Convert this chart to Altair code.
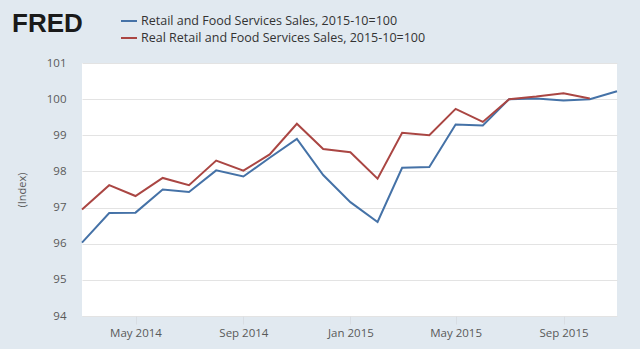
import altair as alt
import pandas as pd

months = pd.date_range("2014-03-01", "2015-11-01", freq="MS").strftime("%Y-%m-%d").tolist()

nominal = [96.03, 96.85, 96.86, 97.50, 97.43, 98.03, 97.86, 98.38, 98.90, 97.90,
           97.15, 96.60, 98.10, 98.12, 99.30, 99.27, 100.00, 100.02, 99.96, 100.00, 100.22]
real = [96.95, 97.62, 97.32, 97.82, 97.62, 98.30, 98.02, 98.47, 99.32, 98.62,
        98.53, 97.80, 99.07, 99.00, 99.73, 99.37, 100.00, 100.07, 100.16, 100.02]

s_nom = "Retail and Food Services Sales, 2015-10=100"
s_real = "Real Retail and Food Services Sales, 2015-10=100"

rows = [{"date": d, "value": v, "series": s_nom} for d, v in zip(months, nominal)]
rows += [{"date": d, "value": v, "series": s_real} for d, v in zip(months, real)]
df = pd.DataFrame(rows)

BLUE = "#4572a7"
RED = "#aa4643"
FONT = "Open Sans"

tick_vals = [alt.DateTime(year=2014, month=5, date=1, utc=True),
             alt.DateTime(year=2014, month=9, date=1, utc=True),
             alt.DateTime(year=2015, month=1, date=1, utc=True),
             alt.DateTime(year=2015, month=5, date=1, utc=True),
             alt.DateTime(year=2015, month=9, date=1, utc=True)]

x = alt.X("date:T", title=None,
          scale=alt.Scale(type="utc",
                          domain=[alt.DateTime(year=2014, month=3, date=1, utc=True),
                                  alt.DateTime(year=2015, month=11, date=1, utc=True)]),
          axis=alt.Axis(values=tick_vals, labelExpr="utcFormat(datum.value, '%b %Y')",
                        grid=False, domain=False, tickSize=8, tickColor="#d8dde3",
                        labelPadding=3, labelFontSize=11.5, labelColor="#595959",
                        labelFont=FONT))
y = alt.Y("value:Q", title="(Index)",
          scale=alt.Scale(domain=[94, 101], nice=False, zero=False),
          axis=alt.Axis(values=[94, 95, 96, 97, 98, 99, 100, 101], grid=True,
                        gridColor="#e3e3e3", gridWidth=1, domain=False, ticks=False,
                        labelPadding=16, labelFontSize=11.5, labelColor="#595959",
                        labelFont=FONT, titleFont=FONT, titleFontSize=11,
                        titleFontWeight="normal", titleColor="#595959",
                        titlePadding=19))

color = alt.Color("series:N", scale=alt.Scale(domain=[s_nom, s_real], range=[BLUE, RED]),
                  legend=None)

lines = alt.Chart(df).mark_line(strokeWidth=2).encode(x=x, y=y, color=color)

leg_df = pd.DataFrame({"series": [s_nom, s_real], "row": [0, 1]})
leg_y = alt.Y("row:Q", scale=alt.Scale(domain=[0, 1], range=[-42, -25]), axis=None)
leg_text = alt.Chart(leg_df).mark_text(align="left", baseline="middle", fontSize=12.5,
                                       font=FONT, color="#333333").encode(
    x=alt.value(59), y=leg_y, text="series:N")
leg_line = alt.Chart(leg_df).mark_rule(strokeWidth=2).encode(
    x=alt.value(39), x2=alt.value(55), y=leg_y, color=color)
logo = alt.Chart(pd.DataFrame({"t": ["FRED"]})).mark_text(
    align="left", baseline="alphabetic", fontSize=26, font="Liberation Sans",
    fontWeight="bold", color="#1a1a1a").encode(
    x=alt.value(-70), y=alt.value(-31), text="t:N")

chart = alt.layer(lines, leg_line, leg_text, logo).resolve_scale(y="independent").properties(
    width=535, height=253,
    background="#e1e9f0",
    padding={"left": 82, "top": 63, "right": 23, "bottom": 33},
    autosize=alt.AutoSizeParams(type="none"),
).configure_view(fill="white", stroke=None)

chart.save("out.html", embed_options={"renderer": "svg", "actions": False})
